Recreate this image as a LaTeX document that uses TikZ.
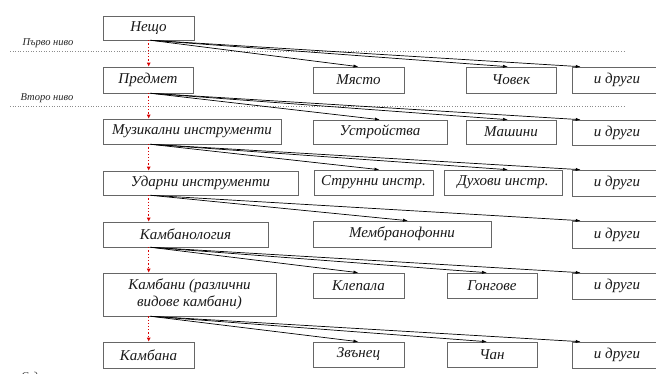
\documentclass[tikz,border=0pt]{standalone}
\usepackage{fontspec}
\setmainfont{Liberation Serif}
\usetikzlibrary{arrows.meta,calc}
\tikzset{
  box/.style={draw=black!60, line width=0.6pt, inner sep=0pt, align=center,
    font=\itshape\fontsize{15}{17}\selectfont, text=black!90},
  lvl/.style={font=\itshape\fontsize{10.5}{12}\selectfont, text=black!85, inner sep=0pt},
  con/.style={draw=black, line width=0.7pt, -{Latex[length=5pt,width=3.2pt]}},
  down/.style={draw=red!85!black, line width=1.2pt, dotted, -{Latex[length=4pt,width=4pt]}},
  sep/.style={draw=black!45, line width=0.6pt, dotted}
}
\newcommand{\bx}[6]{\node[box, minimum width=#4-#3, minimum height=#6-#5] (#1) at ({(#3+#4)/2},{(#5+#6)/2}) {#2};}
\begin{document}
\begin{tikzpicture}[x=1pt,y=-1pt]
\clip (0,0) rectangle (656,374);
\fill[white] (0,0) rectangle (656,374);
% separators
\coordinate (s1a) at (10,51); \coordinate (s1b) at (625,51);
\coordinate (s2a) at (10,106); \coordinate (s2b) at (625,106);
\draw[sep] (s1a) -- (s1b);
\draw[sep] (s2a) -- (s2b);
\node[lvl] (l1) at (48,43) {Първо ниво};
\node[lvl] (l2) at (47,98) {Второ ниво};
\node[lvl] (l7) at (47,376) {Седмо ниво};
% left column
\bx{a0}{Нещо}{103}{194}{16}{40}
\bx{a1}{Предмет}{103}{193}{67}{93}
\bx{a2}{Музикални инструменти}{103}{281}{119}{144}
\bx{a3}{Ударни инструменти}{103}{298}{171}{195}
\bx{a4}{Камбанология}{103}{268}{222}{247}
\bx{a5}{Камбани (различни\\видове камбани)}{103}{276}{273}{316}
\bx{a6}{Камбана}{103}{194}{342}{368}
% row 1
\bx{b1}{Място}{313}{404}{67}{93}
\bx{c1}{Човек}{466}{556}{67}{93}
\bx{d1}{и други}{572}{662}{67}{93}
% row 2
\bx{b2}{Устройства}{313}{447}{120}{144}
\bx{c2}{Машини}{466}{556}{120}{144}
\bx{d2}{и други}{572}{662}{120}{145}
% row 3
\bx{b3}{Струнни инстр.}{314}{433}{170}{195}
\bx{c3}{Духови инстр.}{444}{562}{170}{195}
\bx{d3}{и други}{572}{662}{170}{196}
% row 4
\bx{b4}{Мембранофонни}{313}{491}{221}{247}
\bx{d4}{и други}{572}{662}{221}{248}
% row 5
\bx{b5}{Клепала}{313}{404}{273}{298}
\bx{c5}{Гонгове}{447}{537}{273}{298}
\bx{d5}{и други}{572}{662}{273}{299}
% row 6
\bx{b6}{Звънец}{313}{404}{342}{367}
\bx{c6}{Чан}{447}{537}{342}{367}
\bx{d6}{и други}{572}{662}{342}{368}
% red dotted descent
\foreach \u/\v in {a0/a1,a1/a2,a2/a3,a3/a4,a4/a5,a5/a6}{
  \draw[down] ($(\u.south west)+(46,0)$) -- ($(\v.north west)+(46,0)$);
}
% connectors
\draw[con] ($(a0.south west)+(48,0)$) -- (b1.north);
\draw[con] ($(a0.south west)+(48,0)$) -- ($(c1.north)+(-3,0)$);
\draw[con] ($(a0.south west)+(48,0)$) -- ($(d1.north west)+(9,0)$);
\draw[con] ($(a1.south west)+(48,0)$) -- (b2.north);
\draw[con] ($(a1.south west)+(48,0)$) -- ($(c2.north)+(-3,0)$);
\draw[con] ($(a1.south west)+(48,0)$) -- ($(d2.north west)+(9,0)$);
\draw[con] ($(a2.south west)+(48,0)$) -- ($(b3.north)+(6,0)$);
\draw[con] ($(a2.south west)+(48,0)$) -- ($(c3.north)+(5,0)$);
\draw[con] ($(a2.south west)+(48,0)$) -- ($(d3.north west)+(9,0)$);
\draw[con] ($(a3.south west)+(48,0)$) -- ($(b4.north)+(6,0)$);
\draw[con] ($(a3.south west)+(48,0)$) -- ($(d4.north west)+(9,0)$);
\draw[con] ($(a4.south west)+(48,0)$) -- (b5.north);
\draw[con] ($(a4.south west)+(48,0)$) -- ($(c5.north)+(-5,0)$);
\draw[con] ($(a4.south west)+(48,0)$) -- ($(d5.north west)+(9,0)$);
\draw[con] ($(a5.south west)+(48,0)$) -- (b6.north);
\draw[con] ($(a5.south west)+(48,0)$) -- ($(c6.north)+(-5,0)$);
\draw[con] ($(a5.south west)+(48,0)$) -- ($(d6.north west)+(9,0)$);
\end{tikzpicture}
\end{document}
